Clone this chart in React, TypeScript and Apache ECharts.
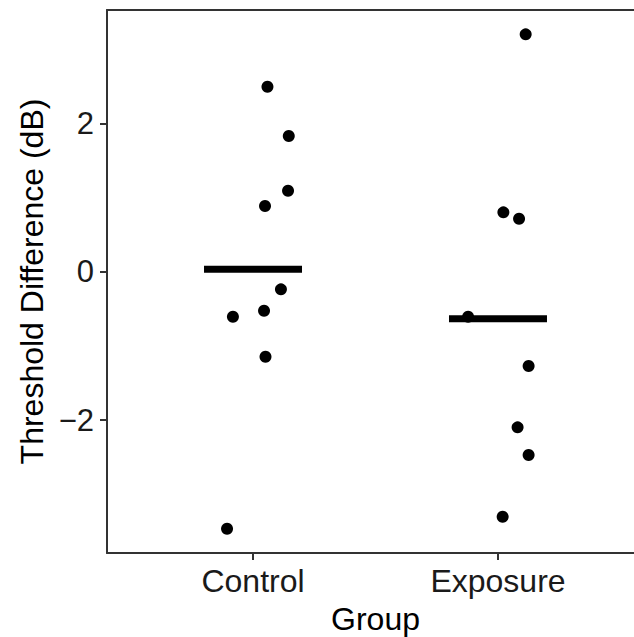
import React, { useEffect, useRef } from "react";
import * as echarts from "echarts";

const categories = ["Control", "Exposure"];
const categoryPositions = [1, 2];
const controlX = [1.059, 1.146, 1.143, 1.049, 1.114, 1.045, 0.918, 1.051, 0.894];
const controlY = [2.493, 1.829, 1.092, 0.885, -0.237, -0.526, -0.606, -1.146, -3.464];
const exposureX = [2.113, 2.022, 2.086, 1.878, 2.125, 2.08, 2.125, 2.019];
const exposureY = [3.199, 0.8, 0.714, -0.606, -1.271, -2.097, -2.47, -3.302];
const groupMeans = [0.032, -0.633];
const yTicks = [-2, 0, 2];

const FONT = "Liberation Sans, Arial, Helvetica, sans-serif";

export default function App() {
  const ref = useRef<HTMLDivElement>(null);
  useEffect(() => {
    if (!ref.current) return;
    const chart = echarts.init(ref.current, undefined, { renderer: "svg" });
    const pts = [
      ...controlX.map((x, i) => [x, controlY[i]]),
      ...exposureX.map((x, i) => [x, exposureY[i]]),
    ];
    const meanSeries = groupMeans.map((m, i) => ({
      type: "line",
      data: [
        [categoryPositions[i] - 0.2, m],
        [categoryPositions[i] + 0.2, m],
      ],
      symbol: "none",
      lineStyle: { color: "#000", width: 7, cap: "butt" },
      z: 2,
      silent: true,
    }));
    chart.setOption({
      animation: false,
      backgroundColor: "#fff",
      grid: {
        left: 107,
        right: 0,
        top: 10,
        bottom: 84,
        show: false,
        containLabel: false,
        outerBoundsMode: "none",
      },
      xAxis: [
        {
          type: "value",
          min: 0.404,
          max: 2.596,
          position: "bottom",
          name: "Group",
          nameLocation: "middle",
          nameGap: 50,
          nameTextStyle: { fontFamily: FONT, fontSize: 32, color: "#000" },
          splitLine: { show: false },
          axisLine: { show: true, onZero: false, lineStyle: { color: "#333", width: 2 } },
          axisTick: {
            show: true,
            customValues: categoryPositions,
            length: 7,
            lineStyle: { color: "#333", width: 2 },
          },
          axisLabel: {
            customValues: categoryPositions,
            formatter: (v: number) => categories[categoryPositions.indexOf(Math.round(v))] ?? "",
            fontFamily: FONT,
            fontSize: 32,
            color: "#1a1a1a",
            margin: 12,
          },
        },
        {
          type: "value",
          min: 0.404,
          max: 2.596,
          position: "top",
          splitLine: { show: false },
          axisLine: { show: true, onZero: false, lineStyle: { color: "#333", width: 2 } },
          axisTick: { show: false },
          axisLabel: { show: false },
        },
      ],
      yAxis: {
        type: "value",
        min: -3.79,
        max: 3.527,
        name: "Threshold Difference (dB)",
        nameLocation: "middle",
        nameRotate: 90,
        nameGap: 58,
        nameTextStyle: { fontFamily: FONT, fontSize: 32, color: "#000" },
        splitLine: { show: false },
        axisLine: { show: true, onZero: false, lineStyle: { color: "#333", width: 2 } },
        axisTick: {
          show: true,
          customValues: yTicks,
          length: 7,
          lineStyle: { color: "#333", width: 2 },
        },
        axisLabel: {
          customValues: yTicks,
          formatter: (v: number) => (v < 0 ? "\u2212" + Math.abs(v) : String(v)),
          fontFamily: FONT,
          fontSize: 31,
          color: "#1a1a1a",
          margin: 13,
        },
      },
      series: [
        ...meanSeries,
        {
          type: "scatter",
          data: pts,
          symbol: "circle",
          symbolSize: 12,
          itemStyle: { color: "#000", opacity: 1 },
          z: 3,
          silent: true,
        },
      ],
    });
    return () => chart.dispose();
  }, []);
  return (
    <div style={{ position: "fixed", left: 0, top: 0, width: 634, height: 637, overflow: "hidden" }}>
      <div ref={ref} style={{ position: "absolute", left: 0, top: 0, width: 644, height: 637 }} />
    </div>
  );
}
